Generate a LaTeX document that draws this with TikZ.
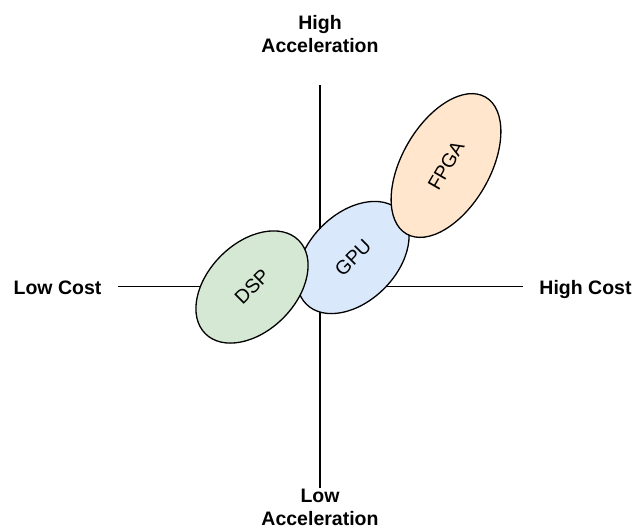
\documentclass[tikz,border=0pt]{standalone}
\usepackage{fontspec}
\setmainfont{Liberation Sans}
\usetikzlibrary{shapes.geometric}

\definecolor{dspfill}{HTML}{D5E8D4}
\definecolor{gpufill}{HTML}{DAE8FC}
\definecolor{fpgafill}{HTML}{FFE6CC}

\tikzset{
  axis/.style={line width=1.3pt, black},
  axislabel/.style={font=\fontsize{19.5}{23}\selectfont\bfseries, inner sep=0pt, align=center},
  chip/.style={ellipse, draw=black, line width=1.3pt, inner sep=0pt,
               font=\fontsize{19.5}{22}\selectfont},
}

\begin{document}
\begin{tikzpicture}[x=1pt, y=1pt]
  \useasboundingbox (0,0) rectangle (634,-528);

  % axis end points
  \coordinate (top) at (320,-85);
  \coordinate (bottom) at (320,-488);
  \coordinate (left) at (118,-286.5);
  \coordinate (right) at (522.5,-286.5);

  \draw[axis] (top) -- (bottom);
  \draw[axis] (left) -- (right);

  % axis labels (base anchor sits on the last line of a two-line label)
  \node[axislabel, anchor=base] (hiacc) at (320,-52.3) {High\\Acceleration};
  \node[axislabel, anchor=base] (loacc) at (320,-525.3) {Low\\Acceleration};
  \node[axislabel, anchor=base] (locost) at (57.5,-294) {Low Cost};
  \node[axislabel, anchor=base] (hicost) at (585.5,-294) {High Cost};

  % accelerator ellipses
  \node[chip, fill=gpufill, minimum width=132pt, minimum height=88pt, rotate=45]
    (gpu) at (353,-257.5) {GPU};
  \node[chip, fill=dspfill, minimum width=132pt, minimum height=88pt, rotate=45]
    (dsp) at (252,-287) {DSP};
  \node[chip, fill=fpgafill, minimum width=158pt, minimum height=88pt, rotate=60]
    (fpga) at (446,-165.5) {FPGA};
\end{tikzpicture}
\end{document}
